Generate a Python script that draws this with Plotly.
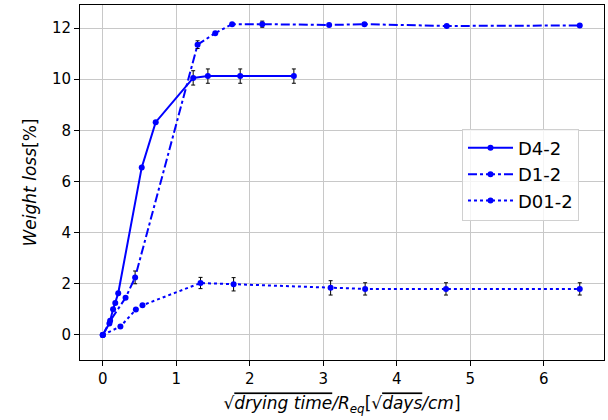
import plotly.graph_objects as go

# D4-2
x_d4 = [0, 0.09, 0.14, 0.17, 0.21, 0.53, 0.72, 1.23, 1.43, 1.87, 2.60]
y_d4 = [0, 0.45, 1.0, 1.25, 1.63, 6.55, 8.32, 10.05, 10.12, 10.12, 10.12]
e_d4 = [0, 0, 0, 0, 0, 0, 0, 0.28, 0.28, 0.28, 0.28]

# D1-2
x_d1 = [0, 0.10, 0.31, 0.44, 1.29, 1.53, 1.76, 2.17, 3.08, 3.56, 4.68, 6.49]
y_d1 = [0, 0.55, 1.45, 2.25, 11.35, 11.8, 12.15, 12.15, 12.12, 12.15, 12.08, 12.1]
e_d1 = [0, 0, 0, 0.25, 0.15, 0, 0, 0.12, 0, 0, 0, 0]

# D01-2
x_d01 = [0, 0.24, 0.45, 0.54, 1.33, 1.78, 3.10, 3.57, 4.67, 6.49]
y_d01 = [0, 0.33, 0.99, 1.16, 2.03, 1.98, 1.84, 1.80, 1.80, 1.80]
e_d01 = [0, 0, 0, 0, 0.22, 0.26, 0.28, 0.24, 0.24, 0.24]

series = [
    ("D4-2", x_d4, y_d4, e_d4, "solid"),
    ("D1-2", x_d1, y_d1, e_d1, "dashdot"),
    ("D01-2", x_d01, y_d01, e_d01, "dot"),
]

fig = go.Figure()
for name, xs, ys, es, dash in series:
    fig.add_trace(go.Scatter(
        x=xs, y=ys, name=name, mode="lines+markers",
        line=dict(color="#0000ff", width=2, dash=dash),
        marker=dict(color="#0000ff", size=6),
        error_y=dict(type="data", array=es, visible=True, color="black",
                     thickness=1, width=2),
    ))

axis_common = dict(
    showline=True, linecolor="black", linewidth=1, mirror=True,
    ticks="outside", ticklen=5, tickcolor="black",
    showgrid=True, gridcolor="#c8c8c8", gridwidth=1,
    zeroline=False, tickfont=dict(family="DejaVu Sans", size=15, color="black"),
)

fig.update_layout(
    width=608, height=420,
    margin=dict(l=80, r=4, t=5, b=60),
    paper_bgcolor="white", plot_bgcolor="white",
    font=dict(family="DejaVu Sans", color="black"),
    xaxis=dict(range=[-0.31, 6.82], tickvals=[0, 1, 2, 3, 4, 5, 6],
               title=dict(text="√<span style='text-decoration:overline'><i>drying time</i></span>"
                               "<i>/R<sub>eq</sub></i>[√<span style='text-decoration:overline'><i>days</i></span><i>/cm</i>]",
                          font=dict(size=17), standoff=10),
               **axis_common),
    yaxis=dict(range=[-0.98, 12.9], tickvals=[0, 2, 4, 6, 8, 10, 12],
               title=dict(text="<i>Weight loss</i>[%]", font=dict(size=17), standoff=10),
               **axis_common),
    legend=dict(x=0.729, y=0.652, xanchor="left", yanchor="top",
                bgcolor="rgba(255,255,255,0.8)", bordercolor="#d0d0d0", borderwidth=1,
                font=dict(size=18, family="DejaVu Sans"), tracegroupgap=2,
                itemwidth=45),
    showlegend=True,
)

fig.write_html("out.html")
